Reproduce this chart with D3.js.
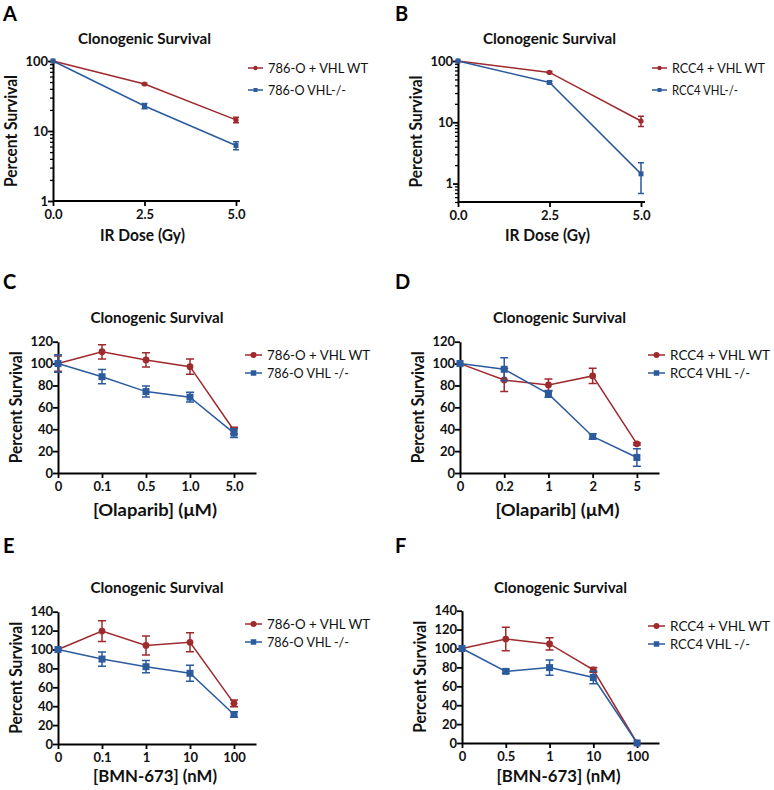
<!DOCTYPE html>
<html><head><meta charset="utf-8">
<script src="https://cdn.jsdelivr.net/npm/d3@7"></script>
<style>body{margin:0;background:#fff}svg{display:block}text{font-family:Lato,"Open Sans",sans-serif}</style>
</head><body>
<svg id="c" width="774" height="790"></svg>
<script>
// ---------- data ----------
const panelLetters = ["A", "B", "C", "D", "E", "F"];
const chartTitle = "Clonogenic Survival";
const yAxisLabel = "Percent Survival";
const xAxisLabels = ["IR Dose (Gy)", "IR Dose (Gy)", "[Olaparib] (\u03BCM)", "[Olaparib] (\u03BCM)", "[BMN-673] (nM)", "[BMN-673] (nM)"];
const wtNames = ["786-O + VHL WT", "RCC4 + VHL WT", "786-O + VHL WT", "RCC4 + VHL WT", "786-O + VHL WT", "RCC4 + VHL WT"];
const koNames = ["786-O VHL-/-", "RCC4 VHL-/-", "786-O VHL -/-", "RCC4 VHL -/-", "786-O VHL -/-", "RCC4 VHL -/-"];

// A, B: IR dose (numeric x, log y)
const irDose = [0, 2.5, 5];
const irTicks = ["0.0", "2.5", "5.0"];
const wtA = [100, 46.9, 14.4], wtAErr = [0, 1.2, 1.3];
const koA = [100, 22.8, 6.2], koAErr = [0, 2.0, 0.8];
const wtB = [100, 65.2, 10.5], wtBErr = [0, 2.0, 2.0];
const koB = [100, 44.7, 1.44], koBErr = [0, 2.0, 0.75];

// C, D: Olaparib (categorical x)
const olapC = ["0", "0.1", "0.5", "1.0", "5.0"];
const wtC = [100, 110.8, 103.3, 97.2, 38.8], wtCErr = [7, 6.5, 6.5, 7, 3];
const koC = [100, 88.0, 74.4, 69.3, 36.5], koCErr = [8, 6.5, 5, 4.5, 4];
const olapD = ["0", "0.2", "1", "2", "5"];
const wtD = [100, 85.0, 80.5, 88.7, 26.7], wtDErr = [0, 10.5, 5.5, 7, 1];
const koD = [100, 94.8, 72.3, 33.4, 14.2], koDErr = [0, 10.5, 3, 2.5, 8];

// E, F: BMN-673 (categorical x)
const bmnE = ["0", "0.1", "1", "10", "100"];
const wtE = [100, 119.5, 104.3, 107.6, 43.0], wtEErr = [0, 11, 10, 10, 3.5];
const koE = [100, 89.9, 81.8, 74.8, 31.2], koEErr = [0, 7.5, 6.5, 8.5, 3];
const bmnF = ["0", "0.5", "1", "10", "100"];
const wtF = [100, 110.0, 104.8, 77.4, 0], wtFErr = [0, 12.5, 6.5, 2.5, 0];
const koF = [100, 75.8, 79.8, 69.3, 0], koFErr = [0, 2, 8, 6.5, 0];

const yTicksC = [0, 20, 40, 60, 80, 100, 120];
const yTicksE = [0, 20, 40, 60, 80, 100, 120, 140];
const logMajor = [1, 10, 100];

// ---------- styling ----------
const RED = "#9e2a2e", BLUE = "#2c5b9d";
const svg = d3.select("#c");

function fit(t, w) {
  const n = t.node();
  if (n.getComputedTextLength() > 0) t.attr("textLength", w).attr("lengthAdjust", "spacingAndGlyphs");
  return t;
}

const panels = [
  {letter:0, type:"log", x0:53,  x1:236, xdom:[0,5], y0:201, y1:61, ydom:[1,100],   xs:irDose, xt:irTicks, wt:wtA, wtE:wtAErr, ko:koA, koE:koAErr, legX:248, legY:68, titleY:44, xlabY:241, legW:[100,78], xlW:85},
  {letter:1, type:"log", x0:458, x1:641, xdom:[0,5], y0:202, y1:61, ydom:[0.5,100], xs:irDose, xt:irTicks, wt:wtB, wtE:wtBErr, ko:koB, koE:koBErr, legX:652, legY:68, titleY:44, xlabY:241, legW:[93,66], xlW:85},
  {letter:2, type:"cat", x0:58,  x1:256, y0:473, y1:341.7, ydom:[0,120], yt:yTicksC, cats:olapC, wt:wtC, wtE:wtCErr, ko:koC, koE:koCErr, legX:245, legY:355, titleY:323, xlabY:516, legW:[103,82], xlW:124},
  {letter:3, type:"cat", x0:460, x1:659, y0:473, y1:341.7, ydom:[0,120], yt:yTicksC, cats:olapD, wt:wtD, wtE:wtDErr, ko:koD, koE:koDErr, legX:648, legY:355, titleY:323, xlabY:516, legW:[100,80], xlW:124},
  {letter:4, type:"cat", x0:58,  x1:256, y0:744, y1:611.7, ydom:[0,140], yt:yTicksE, cats:bmnE, wt:wtE, wtE:wtEErr, ko:koE, koE:koEErr, legX:245, legY:624, titleY:593, xlabY:782, legW:[103,82], xlW:124},
  {letter:5, type:"cat", x0:462, x1:659, y0:743, y1:610.7, ydom:[0,140], yt:yTicksE, cats:bmnF, wt:wtF, wtE:wtFErr, ko:koF, koE:koFErr, legX:648, legY:626, titleY:593, xlabY:782, legW:[100,80], xlW:124}
];
const letterPos = [[3,21],[395,21],[3,289],[395,289],[3,553],[395,553]];

panels.forEach((p, i) => {
  const g = svg.append("g");
  let x, y, xv;
  if (p.type === "log") {
    x = d3.scaleLinear().domain(p.xdom).range([p.x0, p.x1]);
    y = d3.scaleLog().domain(p.ydom).range([p.y0, p.y1]);
    xv = p.xs;
  } else {
    x = d3.scaleLinear().domain([0, p.cats.length - 0.5]).range([p.x0, p.x1]);
    y = d3.scaleLinear().domain(p.ydom).range([p.y0, p.y1]);
    xv = p.cats.map((c, k) => k);
  }
  const isLog = p.type === "log";
  const mr = isLog ? 2.6 : 3.4, ms = isLog ? 5 : 7;

  // axes
  const ax = g.append("g").attr("transform", `translate(0,${p.y0})`);
  if (isLog) {
    ax.call(d3.axisBottom(x).tickValues(p.xs).tickFormat((d, k) => p.xt[k]).tickSize(5).tickSizeOuter(0));
    ax.select(".domain").attr("d", `M${p.x0},0H${p.x1 + 4}`);
  } else {
    ax.call(d3.axisBottom(x).tickValues(xv).tickFormat((d, k) => p.cats[k]).tickSize(5).tickSizeOuter(0));
  }
  const ay = g.append("g").attr("transform", `translate(${p.x0},0)`);
  if (isLog) {
    ay.call(d3.axisLeft(y).tickValues(logMajor).tickFormat(d3.format("d")).tickSize(5).tickSizeOuter(0));
    const minor = y.ticks().filter(v => !logMajor.includes(v));
    const am = g.append("g").attr("transform", `translate(${p.x0},0)`)
      .call(d3.axisLeft(y).tickValues(minor).tickFormat("").tickSize(3).tickSizeOuter(0));
    am.select(".domain").remove();
    am.selectAll("line").attr("stroke", "#000").attr("stroke-width", 1.3);
  } else {
    ay.call(d3.axisLeft(y).tickValues(p.yt).tickSize(5).tickSizeOuter(0));
  }
  [ax, ay].forEach(a => {
    a.select(".domain").attr("stroke", "#000").attr("stroke-width", 2);
    a.selectAll(".tick line").attr("stroke", "#000").attr("stroke-width", 1.8);
    a.selectAll(".tick text").attr("fill", "#111").style("font-family", "Lato").style("font-weight", "bold").style("font-size", "13px");
  });
  ax.selectAll(".tick text").attr("dy", "0.71em").attr("y", 9);
  ay.selectAll(".tick text").attr("x", -5);

  // series
  const series = [
    {v: p.wt, e: p.wtE, c: RED, m: "circle"},
    {v: p.ko, e: p.koE, c: BLUE, m: "square"}
  ];
  series.forEach(s => {
    const pts = s.v.map((v, k) => ({x: xv[k], v, e: s.e[k]}));
    const line = d3.line().x(d => x(d.x)).y(d => y(d.v));
    g.append("path").datum(pts).attr("d", line).attr("fill", "none").attr("stroke", s.c).attr("stroke-width", 1.5);
    const cap = isLog ? 3 : 4;
    pts.filter(d => d.e > 0).forEach(d => {
      const yt = y(d.v + d.e), yb = y(Math.max(d.v - d.e, isLog ? 0.01 : 0));
      const xx = x(d.x);
      g.append("path").attr("d", `M${xx},${yt}V${yb}M${xx - cap},${yt}H${xx + cap}M${xx - cap},${yb}H${xx + cap}`)
        .attr("stroke", s.c).attr("stroke-width", 1.5).attr("fill", "none");
    });
    pts.forEach(d => {
      if (s.m === "circle") g.append("circle").attr("cx", x(d.x)).attr("cy", y(d.v)).attr("r", mr).attr("fill", s.c);
      else g.append("rect").attr("x", x(d.x) - ms / 2).attr("y", y(d.v) - ms / 2).attr("width", ms).attr("height", ms).attr("fill", s.c);
    });
  });

  // title
  const cx = (p.x0 + p.x1) / 2;
  fit(g.append("text").attr("x", cx).attr("y", p.titleY).attr("text-anchor", "middle")
    .style("font-weight", "bold").style("font-size", "16px").attr("fill", "#111").text(chartTitle), 133);
  // x label
  fit(g.append("text").attr("x", cx - 2).attr("y", p.xlabY).attr("text-anchor", "middle")
    .style("font-weight", "bold").style("font-size", "17px").attr("fill", "#111").text(xAxisLabels[i]), p.xlW);
  // y label
  const ymid = (p.y0 + p.y1) / 2;
  fit(g.append("text").attr("transform", `translate(${p.x0 - 36},${ymid}) rotate(-90)`).attr("text-anchor", "middle")
    .style("font-weight", "bold").style("font-size", "16.5px").attr("fill", "#111").text(yAxisLabel), 112);
  // legend
  const names = [wtNames[i], koNames[i]];
  series.forEach((s, k) => {
    const ly = p.legY + k * (isLog ? 22 : 18);
    const lw = isLog ? 15 : 17;
    g.append("line").attr("x1", p.legX).attr("x2", p.legX + lw).attr("y1", ly).attr("y2", ly).attr("stroke", s.c).attr("stroke-width", 1.5);
    const mx = p.legX + lw / 2;
    if (s.m === "circle") g.append("circle").attr("cx", mx).attr("cy", ly).attr("r", isLog ? 2.2 : 3).attr("fill", s.c);
    else { const z = isLog ? 4 : 5.5; g.append("rect").attr("x", mx - z / 2).attr("y", ly - z / 2).attr("width", z).attr("height", z).attr("fill", s.c); }
    fit(g.append("text").attr("x", p.legX + lw + 5).attr("y", ly).attr("dy", "0.36em")
      .style("font-size", "14px").attr("fill", "#111").text(names[k]), p.legW[k]);
  });
  // panel letter
  svg.append("text").attr("x", letterPos[i][0]).attr("y", letterPos[i][1])
    .style("font-weight", "bold").style("font-size", "20px").attr("fill", "#000").text(panelLetters[p.letter]);
});
</script>
</body></html>
